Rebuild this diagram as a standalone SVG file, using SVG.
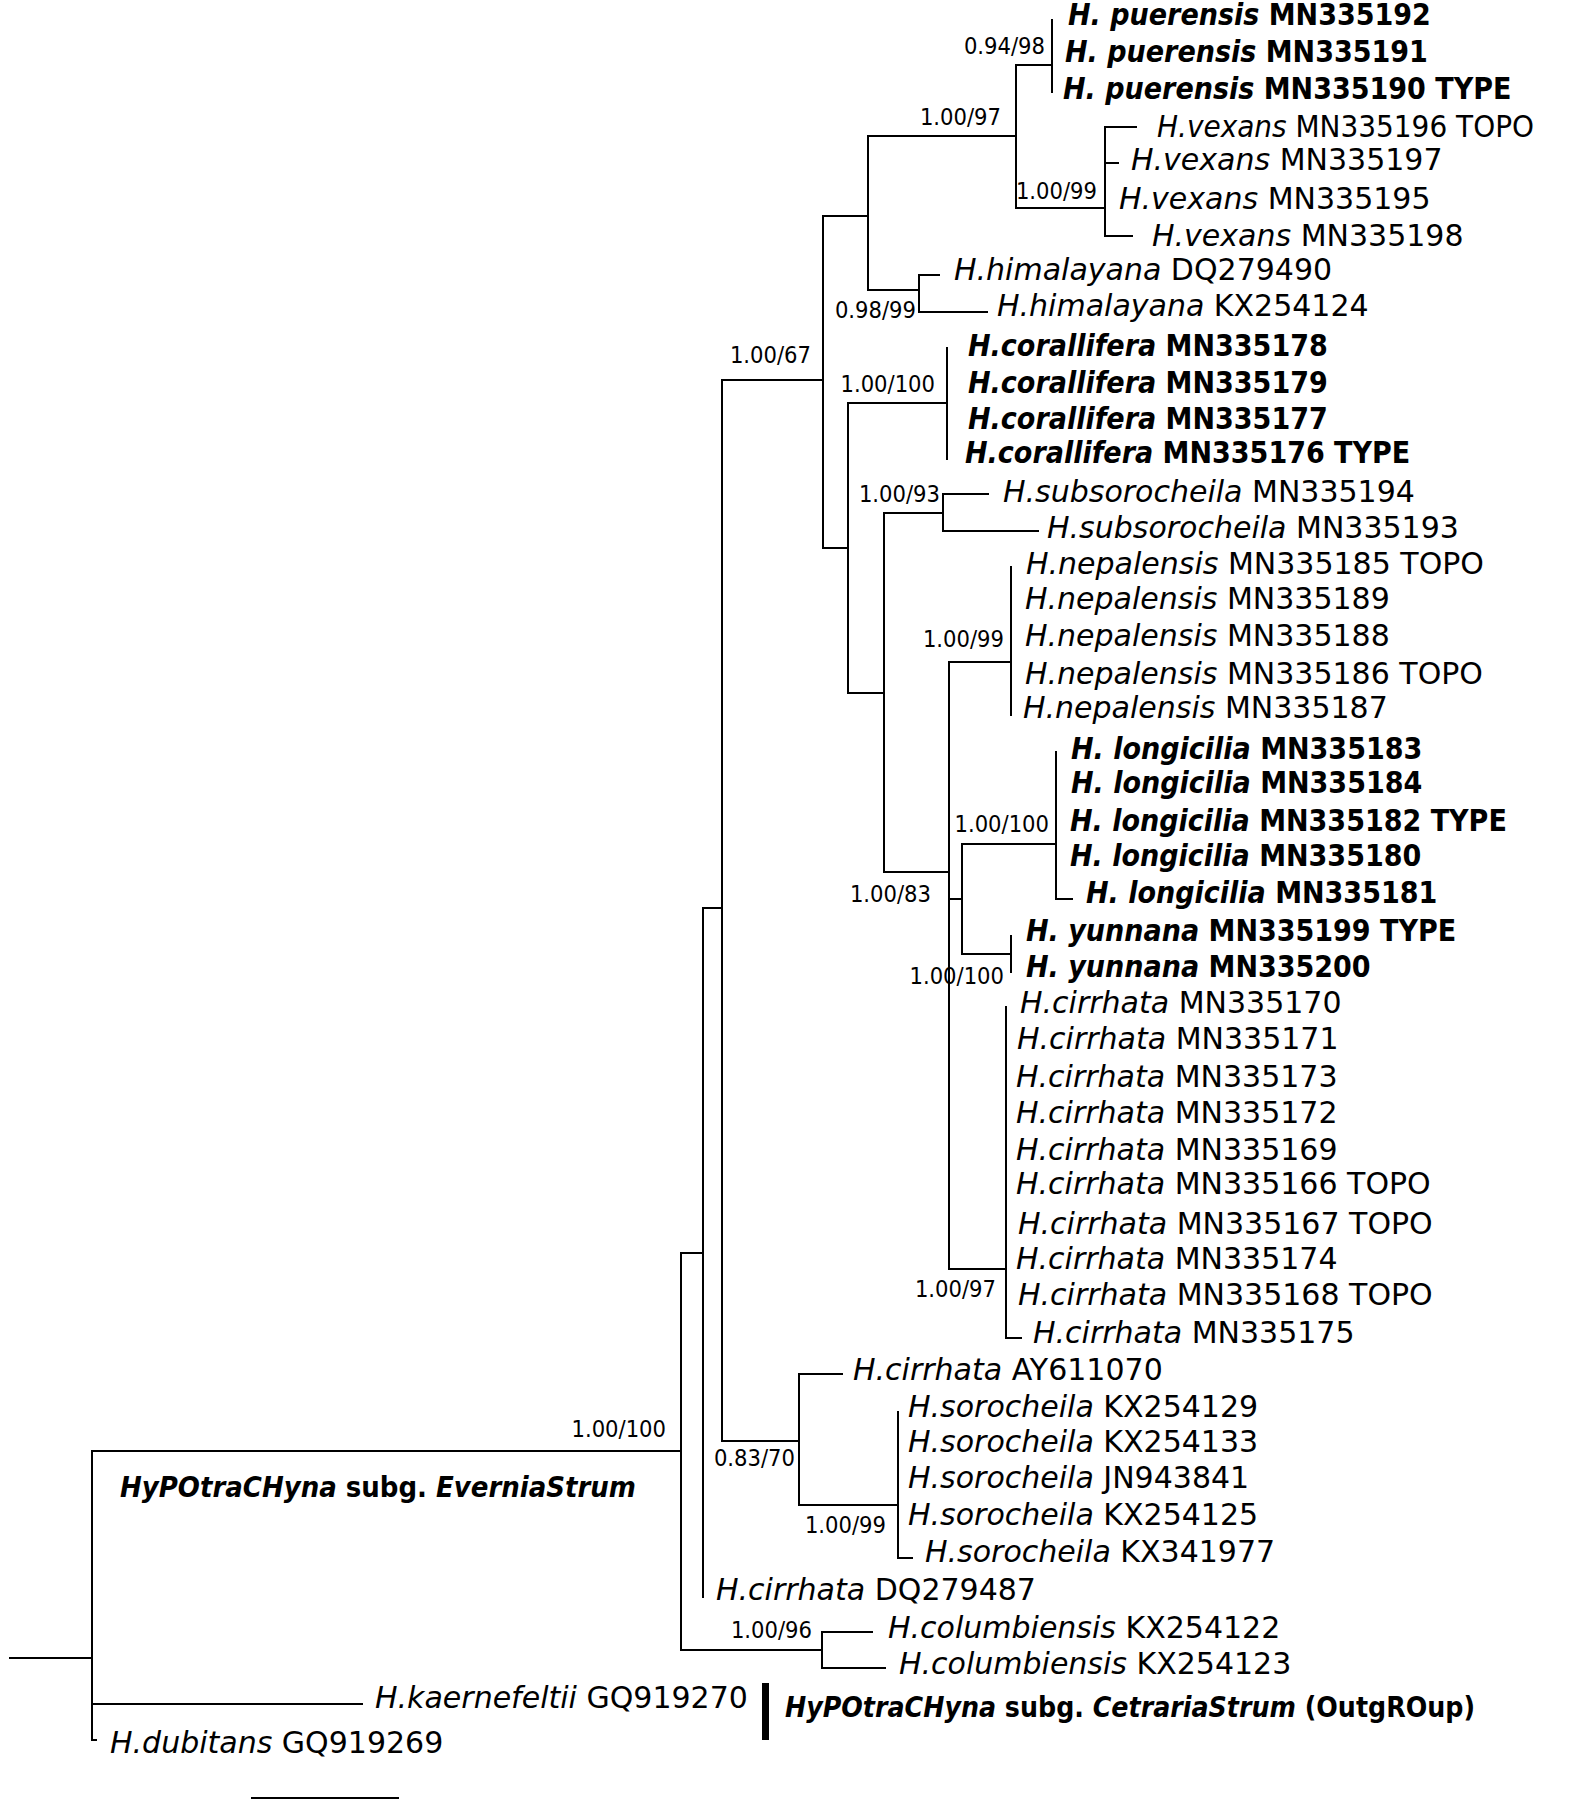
<svg xmlns="http://www.w3.org/2000/svg" width="1570" height="1802" viewBox="0 0 1570 1802">
<style>
.t{font-family:"DejaVu Sans",sans-serif;font-size:30px;fill:#000}
.bd{font-family:"DejaVu Sans Condensed","DejaVu Sans",sans-serif;font-stretch:condensed;font-weight:bold;font-size:30px;fill:#000}
.i{font-style:italic}
.s{font-family:"DejaVu Sans Condensed","DejaVu Sans",sans-serif;font-stretch:condensed;font-size:23.5px;fill:#000;text-anchor:end}
.g{font-family:"DejaVu Sans Condensed","DejaVu Sans",sans-serif;font-stretch:condensed;font-weight:bold;font-size:28px;fill:#000}
.br{fill:none;stroke:#000;stroke-width:2;stroke-linecap:square}
</style>
<rect width="1570" height="1802" fill="#fff"/>
<g id="connectors" class="br">
<path d="M10 1658H92M92 1451V1740H96M92 1704H362M92 1451H681"/>
<path d="M681 1253V1650M681 1253H703M703 908V1597M703 908H722M722 380V1441M722 380H823M722 1441H799"/>
<path d="M799 1374V1505M799 1374H842M799 1505H898M898 1412V1558H912"/>
<path d="M823 216V548M823 216H868M868 136V290M868 136H1016M1016 65V208M1016 65H1052M1052 20V92"/>
<path d="M1016 208H1105M1105 127V236M1105 127H1136M1105 163H1118M1105 236H1132"/>
<path d="M868 290H919M919 275V312M919 275H939M919 312H987"/>
<path d="M823 548H848M848 403V693M848 403H947M947 348V459M848 693H884M884 513V872M884 513H943M943 494V531M943 494H988M943 531H1038"/>
<path d="M884 872H949M949 662V1269M949 662H1011M1011 567V715M949 899H962M962 844V954M962 844H1056M1056 752V899H1072M962 954H1011M1011 936V972"/>
<path d="M949 1269H1006M1006 1007V1338H1021"/>
<path d="M681 1650H822M822 1632V1668M822 1632H872M822 1668H885"/>
</g>
<rect x="762" y="1683" width="7" height="57" fill="#000"/>
<path d="M251 1798H399" stroke="#000" stroke-width="2"/>
<g id="n-pue1"><text class="bd" x="1068" y="25"><tspan class="i">H. puerensis</tspan> MN335192</text></g>
<g id="n-pue2"><text class="bd" x="1065" y="62"><tspan class="i">H. puerensis</tspan> MN335191</text></g>
<g id="n-pue3"><text class="bd" x="1063" y="99"><tspan class="i">H. puerensis</tspan> MN335190 TYPE</text></g>
<g id="n-vex1"><text class="t" x="1157" y="137" textLength="377" lengthAdjust="spacingAndGlyphs"><tspan class="i">H.vexans</tspan> MN335196 TOPO</text></g>
<g id="n-vex2"><text class="t" x="1131" y="170"><tspan class="i">H.vexans</tspan> MN335197</text></g>
<g id="n-vex3"><text class="t" x="1119" y="209"><tspan class="i">H.vexans</tspan> MN335195</text></g>
<g id="n-vex4"><text class="t" x="1152" y="246"><tspan class="i">H.vexans</tspan> MN335198</text></g>
<g id="n-him1"><text class="t" x="954" y="280"><tspan class="i">H.himalayana</tspan> DQ279490</text></g>
<g id="n-him2"><text class="t" x="997" y="316"><tspan class="i">H.himalayana</tspan> KX254124</text></g>
<g id="n-cor1"><text class="bd" x="968" y="356"><tspan class="i">H.corallifera</tspan> MN335178</text></g>
<g id="n-cor2"><text class="bd" x="968" y="393"><tspan class="i">H.corallifera</tspan> MN335179</text></g>
<g id="n-cor3"><text class="bd" x="968" y="429"><tspan class="i">H.corallifera</tspan> MN335177</text></g>
<g id="n-cor4"><text class="bd" x="965" y="463"><tspan class="i">H.corallifera</tspan> MN335176 TYPE</text></g>
<g id="n-sub1"><text class="t" x="1003" y="502"><tspan class="i">H.subsorocheila</tspan> MN335194</text></g>
<g id="n-sub2"><text class="t" x="1047" y="538"><tspan class="i">H.subsorocheila</tspan> MN335193</text></g>
<g id="n-nep1"><text class="t" x="1026" y="574"><tspan class="i">H.nepalensis</tspan> MN335185 TOPO</text></g>
<g id="n-nep2"><text class="t" x="1025" y="609"><tspan class="i">H.nepalensis</tspan> MN335189</text></g>
<g id="n-nep3"><text class="t" x="1025" y="646"><tspan class="i">H.nepalensis</tspan> MN335188</text></g>
<g id="n-nep4"><text class="t" x="1025" y="684"><tspan class="i">H.nepalensis</tspan> MN335186 TOPO</text></g>
<g id="n-nep5"><text class="t" x="1023" y="718"><tspan class="i">H.nepalensis</tspan> MN335187</text></g>
<g id="n-lon1"><text class="bd" x="1071" y="759"><tspan class="i">H. longicilia</tspan> MN335183</text></g>
<g id="n-lon2"><text class="bd" x="1071" y="793"><tspan class="i">H. longicilia</tspan> MN335184</text></g>
<g id="n-lon3"><text class="bd" x="1070" y="831"><tspan class="i">H. longicilia</tspan> MN335182 TYPE</text></g>
<g id="n-lon4"><text class="bd" x="1070" y="866"><tspan class="i">H. longicilia</tspan> MN335180</text></g>
<g id="n-lon5"><text class="bd" x="1086" y="903"><tspan class="i">H. longicilia</tspan> MN335181</text></g>
<g id="n-yun1"><text class="bd" x="1026" y="941"><tspan class="i">H. yunnana</tspan> MN335199 TYPE</text></g>
<g id="n-yun2"><text class="bd" x="1026" y="977"><tspan class="i">H. yunnana</tspan> MN335200</text></g>
<g id="n-cir1"><text class="t" x="1020" y="1013"><tspan class="i">H.cirrhata</tspan> MN335170</text></g>
<g id="n-cir2"><text class="t" x="1017" y="1049"><tspan class="i">H.cirrhata</tspan> MN335171</text></g>
<g id="n-cir3"><text class="t" x="1016" y="1087"><tspan class="i">H.cirrhata</tspan> MN335173</text></g>
<g id="n-cir4"><text class="t" x="1016" y="1123"><tspan class="i">H.cirrhata</tspan> MN335172</text></g>
<g id="n-cir5"><text class="t" x="1016" y="1160"><tspan class="i">H.cirrhata</tspan> MN335169</text></g>
<g id="n-cir6"><text class="t" x="1016" y="1194"><tspan class="i">H.cirrhata</tspan> MN335166 TOPO</text></g>
<g id="n-cir7"><text class="t" x="1018" y="1234"><tspan class="i">H.cirrhata</tspan> MN335167 TOPO</text></g>
<g id="n-cir8"><text class="t" x="1016" y="1269"><tspan class="i">H.cirrhata</tspan> MN335174</text></g>
<g id="n-cir9"><text class="t" x="1018" y="1305"><tspan class="i">H.cirrhata</tspan> MN335168 TOPO</text></g>
<g id="n-cir10"><text class="t" x="1033" y="1343"><tspan class="i">H.cirrhata</tspan> MN335175</text></g>
<g id="n-cir11"><text class="t" x="853" y="1380"><tspan class="i">H.cirrhata</tspan> AY611070</text></g>
<g id="n-sor1"><text class="t" x="908" y="1417"><tspan class="i">H.sorocheila</tspan> KX254129</text></g>
<g id="n-sor2"><text class="t" x="908" y="1452"><tspan class="i">H.sorocheila</tspan> KX254133</text></g>
<g id="n-sor3"><text class="t" x="908" y="1488"><tspan class="i">H.sorocheila</tspan> JN943841</text></g>
<g id="n-sor4"><text class="t" x="908" y="1525"><tspan class="i">H.sorocheila</tspan> KX254125</text></g>
<g id="n-sor5"><text class="t" x="925" y="1562"><tspan class="i">H.sorocheila</tspan> KX341977</text></g>
<g id="n-cir12"><text class="t" x="716" y="1600"><tspan class="i">H.cirrhata</tspan> DQ279487</text></g>
<g id="n-col1"><text class="t" x="888" y="1638"><tspan class="i">H.columbiensis</tspan> KX254122</text></g>
<g id="n-col2"><text class="t" x="899" y="1674"><tspan class="i">H.columbiensis</tspan> KX254123</text></g>
<g id="n-kae"><text class="t" x="375" y="1708"><tspan class="i">H.kaernefeltii</tspan> GQ919270</text></g>
<g id="n-dub"><text class="t" x="110" y="1753"><tspan class="i">H.dubitans</tspan> GQ919269</text></g>
<g id="support">
<text class="s" x="1045" y="54">0.94/98</text>
<text class="s" x="1001" y="125">1.00/97</text>
<text class="s" x="1097" y="199">1.00/99</text>
<text class="s" x="916" y="318">0.98/99</text>
<text class="s" x="811" y="363">1.00/67</text>
<text class="s" x="935" y="392">1.00/100</text>
<text class="s" x="940" y="502">1.00/93</text>
<text class="s" x="1004" y="647">1.00/99</text>
<text class="s" x="1049" y="832">1.00/100</text>
<text class="s" x="931" y="902">1.00/83</text>
<text class="s" x="1004" y="984">1.00/100</text>
<text class="s" x="996" y="1297">1.00/97</text>
<text class="s" x="666" y="1437">1.00/100</text>
<text class="s" x="795" y="1466">0.83/70</text>
<text class="s" x="886" y="1533">1.00/99</text>
<text class="s" x="812" y="1638">1.00/96</text>
</g>
<g id="clade-evernia"><text class="g" x="120" y="1497" textLength="516" lengthAdjust="spacingAndGlyphs"><tspan class="i">HyPOtraCHyna</tspan> subg. <tspan class="i">EverniaStrum</tspan></text></g>
<g id="clade-outgroup"><text class="g" x="785" y="1717" textLength="690" lengthAdjust="spacingAndGlyphs"><tspan class="i">HyPOtraCHyna</tspan> subg. <tspan class="i">CetrariaStrum</tspan> (OutgROup)</text></g>
</svg>
